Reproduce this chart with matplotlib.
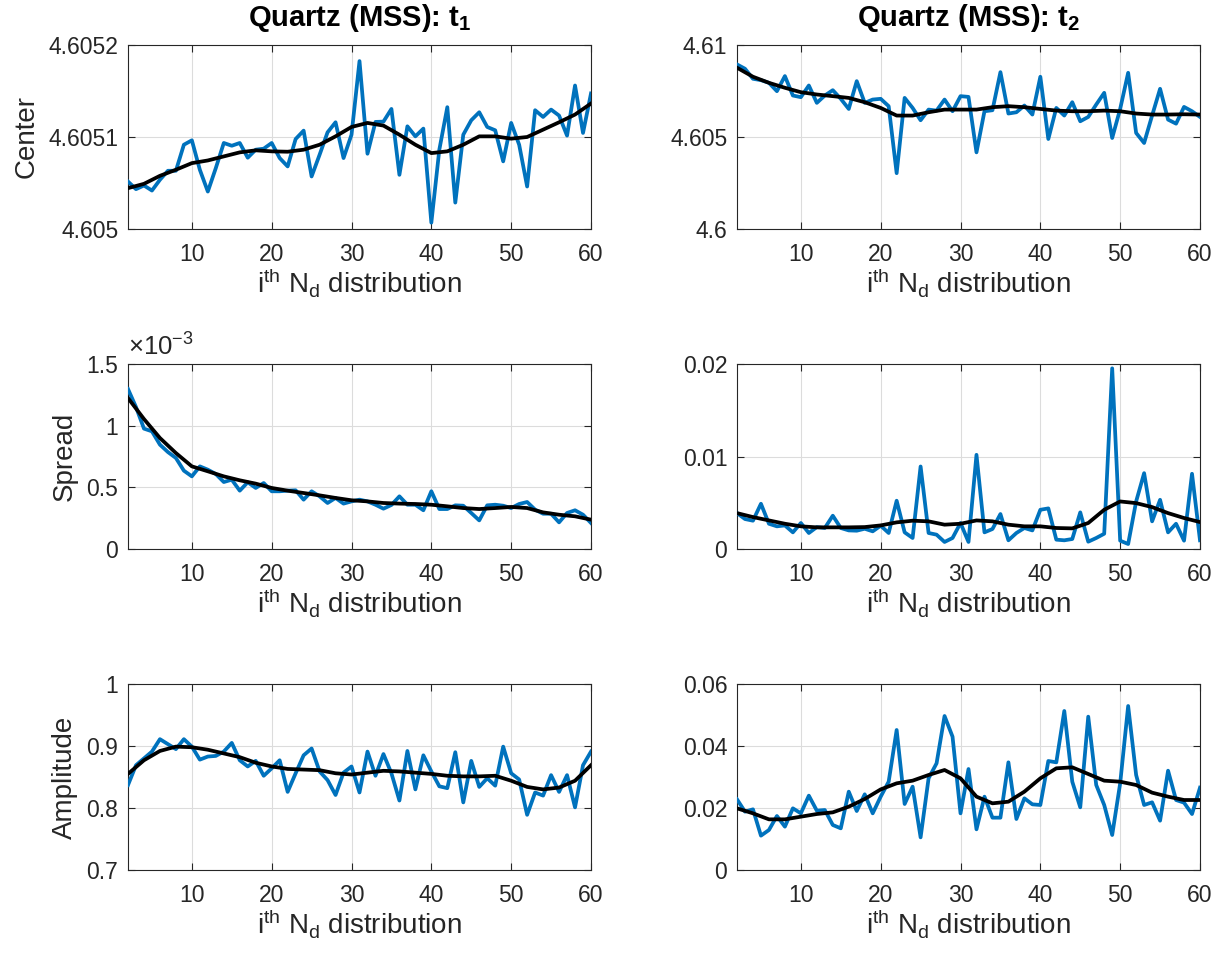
import numpy as np
import matplotlib
matplotlib.use("Agg")
import matplotlib.pyplot as plt
from matplotlib.ticker import FuncFormatter

plt.rcParams['font.family'] = ['Liberation Sans', 'DejaVu Sans']
plt.rcParams['mathtext.fontset'] = 'custom'
plt.rcParams['mathtext.rm'] = 'Liberation Sans'
plt.rcParams['mathtext.it'] = 'Liberation Sans:italic'
plt.rcParams['mathtext.bf'] = 'Liberation Sans:bold'

# x positions: i-th N_d distribution
x_raw = np.arange(2, 61)
x_fit = np.arange(2, 61, 2)

center_t1 = [4.6050516, 4.6050433, 4.6050473, 4.6050418, 4.6050535, 4.6050633, 4.6050633, 4.6050916, 4.6050964, 4.6050644,
             4.6050407, 4.6050662, 4.6050935, 4.6050905, 4.6050935, 4.6050775, 4.6050862, 4.6050873, 4.6050935, 4.6050771,
             4.6050680, 4.6050978, 4.6051069, 4.6050571, 4.6050807, 4.6051051, 4.6051160, 4.6050771, 4.6051025, 4.6051825,
             4.6050818, 4.6051164, 4.6051167, 4.6051305, 4.6050589, 4.6051116, 4.6051007, 4.6051091, 4.6050069, 4.6050862,
             4.6051324, 4.6050287, 4.6051025, 4.6051182, 4.6051269, 4.6051109, 4.6051073, 4.6050735, 4.6051153, 4.6050916,
             4.6050462, 4.6051291, 4.6051218, 4.6051298, 4.6051233, 4.6051015, 4.6051560, 4.6051044, 4.6051473]
center_t1_fit = [4.6050444, 4.6050491, 4.6050578, 4.6050644, 4.6050716, 4.6050745, 4.6050789, 4.6050833, 4.6050855, 4.6050844,
                 4.6050840, 4.6050862, 4.6050916, 4.6051007, 4.6051109, 4.6051153, 4.6051124, 4.6051025, 4.6050916, 4.6050825,
                 4.6050844, 4.6050916, 4.6051007, 4.6051007, 4.6050982, 4.6051000, 4.6051080, 4.6051160, 4.6051244, 4.6051364]

center_t2 = [4.608945, 4.60871, 4.608165, 4.60809, 4.607945, 4.60749, 4.60831, 4.607255, 4.607165, 4.6078,
             4.606855, 4.607255, 4.607545, 4.607075, 4.606525, 4.608035, 4.606855, 4.607035, 4.607075, 4.606675,
             4.603035, 4.607125, 4.60658, 4.60591, 4.60649, 4.606435, 4.607035, 4.6064, 4.60722, 4.60718,
             4.604165, 4.6064, 4.606455, 4.608525, 4.606275, 4.606345, 4.60671, 4.60622, 4.608275, 4.60489,
             4.60658, 4.606165, 4.60689, 4.605855, 4.60609, 4.606765, 4.6074, 4.604945, 4.606525, 4.60849,
             4.60522, 4.604675, 4.606165, 4.60762, 4.605945, 4.605725, 4.606635, 4.6064, 4.60609]
center_t2_fit = [4.608765, 4.608275, 4.607945, 4.607675, 4.607435, 4.60731, 4.60722, 4.607125, 4.60689, 4.60658,
                 4.606165, 4.606165, 4.606345, 4.60649, 4.60649, 4.60649, 4.60662, 4.606675, 4.60662, 4.606525,
                 4.606435, 4.6064, 4.6064, 4.606435, 4.6064, 4.606275, 4.60622, 4.60622, 4.606235, 4.60622]

spread_t1 = [1.297e-3, 1.151e-3, 0.976e-3, 0.954e-3, 0.846e-3, 0.786e-3, 0.738e-3, 0.635e-3, 0.589e-3, 0.670e-3,
             0.643e-3, 0.608e-3, 0.543e-3, 0.562e-3, 0.473e-3, 0.541e-3, 0.495e-3, 0.535e-3, 0.468e-3, 0.468e-3,
             0.473e-3, 0.476e-3, 0.400e-3, 0.468e-3, 0.427e-3, 0.373e-3, 0.414e-3, 0.368e-3, 0.386e-3, 0.400e-3,
             0.386e-3, 0.359e-3, 0.327e-3, 0.357e-3, 0.427e-3, 0.359e-3, 0.359e-3, 0.314e-3, 0.468e-3, 0.324e-3,
             0.324e-3, 0.354e-3, 0.351e-3, 0.292e-3, 0.232e-3, 0.354e-3, 0.359e-3, 0.351e-3, 0.332e-3, 0.365e-3,
             0.381e-3, 0.319e-3, 0.286e-3, 0.286e-3, 0.216e-3, 0.292e-3, 0.314e-3, 0.278e-3, 0.211e-3]
spread_t1_fit = [1.224e-3, 1.054e-3, 0.900e-3, 0.778e-3, 0.670e-3, 0.630e-3, 0.589e-3, 0.557e-3, 0.530e-3, 0.495e-3,
                 0.473e-3, 0.454e-3, 0.435e-3, 0.414e-3, 0.395e-3, 0.386e-3, 0.373e-3, 0.368e-3, 0.365e-3, 0.359e-3,
                 0.346e-3, 0.332e-3, 0.324e-3, 0.332e-3, 0.341e-3, 0.332e-3, 0.297e-3, 0.278e-3, 0.265e-3, 0.238e-3]

spread_t2 = [0.00388, 0.00324, 0.00306, 0.00489, 0.00273, 0.00245, 0.00255, 0.00180, 0.00281, 0.00173,
             0.00237, 0.00227, 0.00360, 0.00227, 0.00201, 0.00198, 0.00219, 0.00191, 0.00252, 0.00173,
             0.00522, 0.00180, 0.00119, 0.00892, 0.00173, 0.00155, 0.00076, 0.00119, 0.00281, 0.00076,
             0.01018, 0.00180, 0.00216, 0.00378, 0.00094, 0.00173, 0.00227, 0.00201, 0.00424, 0.00439,
             0.00101, 0.00094, 0.00108, 0.00396, 0.00079, 0.00119, 0.00165, 0.01953, 0.00090, 0.00054,
             0.00514, 0.00820, 0.00299, 0.00532, 0.00180, 0.00273, 0.00090, 0.00813, 0.00094]
spread_t2_fit = [0.00388, 0.00345, 0.00309, 0.00273, 0.00245, 0.00234, 0.00234, 0.00234, 0.00237, 0.00255,
                 0.00288, 0.00306, 0.00299, 0.00263, 0.00273, 0.00309, 0.00299, 0.00263, 0.00245, 0.00245,
                 0.00227, 0.00223, 0.00281, 0.00424, 0.00514, 0.00496, 0.00453, 0.00388, 0.00335, 0.00291]

amp_t1 = [0.837, 0.869, 0.880, 0.891, 0.911, 0.903, 0.895, 0.911, 0.899, 0.878,
          0.883, 0.884, 0.891, 0.905, 0.877, 0.867, 0.876, 0.852, 0.864, 0.877,
          0.826, 0.856, 0.885, 0.896, 0.859, 0.845, 0.821, 0.857, 0.867, 0.825,
          0.891, 0.852, 0.887, 0.856, 0.812, 0.892, 0.830, 0.885, 0.859, 0.835,
          0.832, 0.890, 0.809, 0.876, 0.834, 0.848, 0.836, 0.899, 0.856, 0.846,
          0.789, 0.825, 0.820, 0.853, 0.826, 0.853, 0.801, 0.869, 0.891]
amp_t1_fit = [0.855, 0.877, 0.892, 0.899, 0.898, 0.894, 0.888, 0.882, 0.873, 0.867,
              0.863, 0.862, 0.861, 0.856, 0.854, 0.857, 0.860, 0.859, 0.857, 0.855,
              0.852, 0.851, 0.851, 0.852, 0.844, 0.834, 0.830, 0.833, 0.844, 0.869]

amp_t2 = [0.02280, 0.01882, 0.01957, 0.01108, 0.01290, 0.01742, 0.01398, 0.01989, 0.01828, 0.02398,
          0.01914, 0.01935, 0.01452, 0.01344, 0.02527, 0.01903, 0.02441, 0.01828, 0.02366, 0.02849,
          0.04516, 0.02129, 0.02688, 0.01054, 0.02957, 0.03441, 0.04968, 0.04301, 0.01828, 0.03258,
          0.01312, 0.02366, 0.01688, 0.01688, 0.03473, 0.01645, 0.02312, 0.02118, 0.02097, 0.03516,
          0.03473, 0.05129, 0.02849, 0.02022, 0.04946, 0.02742, 0.02097, 0.01129, 0.02796, 0.05290,
          0.03065, 0.02097, 0.02183, 0.01591, 0.03204, 0.02258, 0.02172, 0.01806, 0.02656]
amp_t2_fit = [0.01989, 0.01828, 0.01634, 0.01634, 0.01720, 0.01806, 0.01860, 0.02043, 0.02290, 0.02600,
              0.02796, 0.02882, 0.03065, 0.03226, 0.02957, 0.02366, 0.02151, 0.02204, 0.02527, 0.02957,
              0.03280, 0.03312, 0.03097, 0.02882, 0.02849, 0.02742, 0.02495, 0.02366, 0.02258, 0.02258]

titles = [r'Quartz (MSS): t$_{\mathbf{1}}$', r'Quartz (MSS): t$_{\mathbf{2}}$']
row_labels = ['Center', 'Spread', 'Amplitude']
xlabel = r'i$^{\mathrm{th}}$ N$_{\mathrm{d}}$ distribution'

panels = [
    (center_t1, center_t1_fit, (4.605, 4.6052), [4.605, 4.6051, 4.6052]),
    (center_t2, center_t2_fit, (4.6, 4.61), [4.6, 4.605, 4.61]),
    (spread_t1, spread_t1_fit, (0, 1.5e-3), [0, 0.5e-3, 1e-3, 1.5e-3]),
    (spread_t2, spread_t2_fit, (0, 0.02), [0, 0.01, 0.02]),
    (amp_t1, amp_t1_fit, (0.7, 1.0), [0.7, 0.8, 0.9, 1.0]),
    (amp_t2, amp_t2_fit, (0, 0.06), [0, 0.02, 0.04, 0.06]),
]

W, H = 1221, 964
fig = plt.figure(figsize=(W / 100, H / 100), dpi=100)
col_x = [128, 737]
row_y = [(45, 229), (364, 549), (684, 870)]
axw = 463

blue = '#0072BD'
dark = '#262626'

for idx, (raw, fit, ylim, yticks) in enumerate(panels):
    r, c = divmod(idx, 2)
    top, bot = row_y[r]
    ax = fig.add_axes([col_x[c] / W, 1 - bot / H, axw / W, (bot - top) / H])
    ax.plot(x_raw, raw, color=blue, lw=2.7, zorder=3)
    ax.plot(x_fit, fit, color='black', lw=2.7, zorder=4)
    ax.set_xlim(2, 60)
    ax.set_ylim(*ylim)
    ax.set_xticks([10, 20, 30, 40, 50, 60])
    ax.set_yticks(yticks)
    if idx == 2:
        ax.yaxis.set_major_formatter(FuncFormatter(lambda v, p: '%g' % round(v * 1e3, 6)))
        ax.text(0.0, 1.02, r'$\times$10$^{\mathrm{-3}}$', transform=ax.transAxes,
                fontsize=18.5, color=dark, va='bottom', ha='left')
    else:
        ax.yaxis.set_major_formatter(FuncFormatter(lambda v, p: '%g' % round(v, 8)))
    ax.grid(True, color='#dcdcdc', lw=0.8)
    ax.set_axisbelow(True)
    ax.tick_params(direction='in', top=True, right=True, length=5, width=0.8,
                   labelsize=16.5, colors=dark)
    ax.tick_params(axis='x', pad=10)
    ax.tick_params(axis='y', pad=7)
    for sp in ax.spines.values():
        sp.set_color(dark)
        sp.set_linewidth(0.8)
    ax.set_xlabel(xlabel, fontsize=20, color=dark, labelpad=0)
    if c == 0:
        ax.set_ylabel(row_labels[r], fontsize=20, color=dark, labelpad=6)
    if r == 0:
        ax.set_title(titles[c], fontsize=21, fontweight='bold', color='black', pad=14)

fig.savefig('out.png', dpi=100, facecolor='white')
